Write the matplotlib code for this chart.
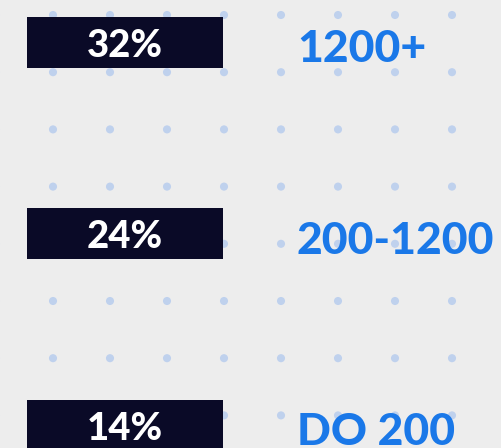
import matplotlib
matplotlib.use("Agg")
import matplotlib.pyplot as plt
import numpy as np

# Data
shares = ["32%", "24%", "14%"]
groups = ["1200+", "200-1200", "DO 200"]

W, H = 502, 448
fig = plt.figure(figsize=(W / 100, H / 100), dpi=100)
fig.patch.set_facecolor("#ededed")
ax = fig.add_axes([0, 0, 1, 1])
ax.set_facecolor("#ededed")
ax.set_xlim(0, W)
ax.set_ylim(H, 0)
ax.axis("off")

# decorative dot grid
gx = np.arange(-4, W + 10, 57)
gy = np.arange(15, H + 10, 57.2)
GX, GY = np.meshgrid(gx, gy)
ax.scatter(GX.ravel(), GY.ravel(), s=34, color="#bfd1ed", edgecolors="none", zorder=1)

# bars
bar_left, bar_len, bar_h = 27, 196, 51
centers = 42.5 + 191.5 * np.arange(len(groups))
ax.barh(centers, [bar_len] * len(groups), left=bar_left, height=bar_h,
        color="#0a0a27", zorder=2)

font = "Lato"
for c, s, g in zip(centers, shares, groups):
    ax.text(bar_left + bar_len / 2, c + 14.5, s, color="white", fontsize=27.5,
            fontweight="black", family=font, ha="center", va="baseline", zorder=3)
    ax.text(297, c + 19.5, g, color="#1a78e8", fontsize=32, fontweight="black",
            family=font, ha="left", va="baseline", zorder=3)

fig.savefig("out.png", dpi=100, facecolor=fig.get_facecolor())
